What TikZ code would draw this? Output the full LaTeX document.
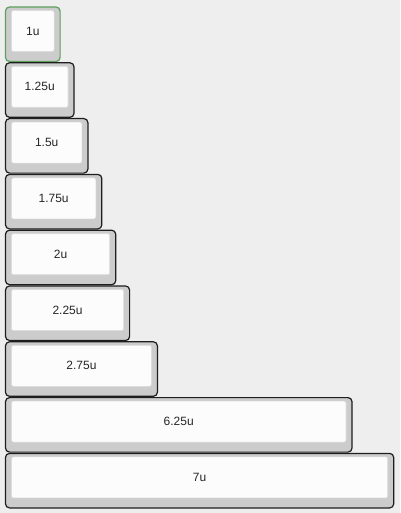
\documentclass[tikz,border=0pt]{standalone}
\usepackage{fontspec}
\setmainfont{Liberation Sans}
\definecolor{bg}{HTML}{EEEEEE}
\definecolor{keyside}{HTML}{CCCCCC}
\definecolor{keytop}{HTML}{FCFCFC}
\definecolor{keyedge}{HTML}{1E1E1E}
\definecolor{seledge}{HTML}{5E9E5E}
\definecolor{topedge}{HTML}{DDDDDD}
\tikzset{
  x=1pt, y=-1pt,
  keybase/.style={draw=keyedge, line width=1.2pt, fill=keyside, rounded corners=4pt},
  keycap/.style={draw=topedge, line width=0.6pt, fill=keytop, rounded corners=2pt},
  keylabel/.style={font=\fontsize{12}{14}\selectfont, text=black!85, inner sep=0pt}
}
\begin{document}
\begin{tikzpicture}
\useasboundingbox[fill=bg] (0,0) rectangle (400,513);
\foreach \w/\lab/\i in {1/1u/0, 1.25/1.25u/1, 1.5/1.5u/2, 1.75/1.75u/3, 2/2u/4, 2.25/2.25u/5, 2.75/2.75u/6, 6.25/6.25u/7, 7/7u/8}{
  \pgfmathsetmacro{\top}{7+\i*55.8}
  \pgfmathsetmacro{\bot}{\top+54.5}
  \pgfmathsetmacro{\rt}{5+\w*55.6-0.5}
  \ifnum\i=0
    \path[keybase, draw=seledge] (5.5,\top) rectangle (\rt,\bot);
  \else
    \path[keybase] (5.5,\top) rectangle (\rt,\bot);
  \fi
  \path[keycap] (11.5,\top+3.5) rectangle (\rt-6,\bot-10) node[midway, keylabel] (k\i) {\lab};
}
\end{tikzpicture}
\end{document}
